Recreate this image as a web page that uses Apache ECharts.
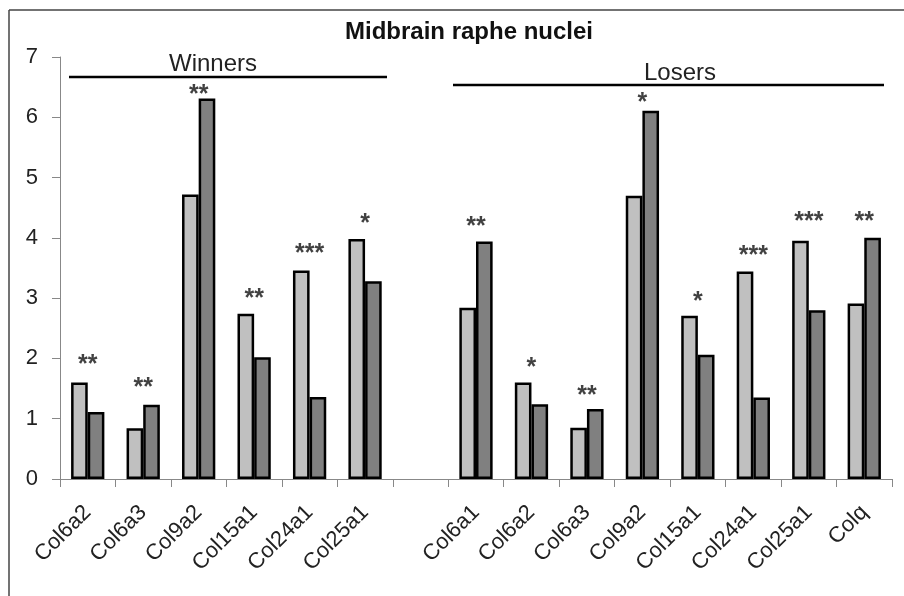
<!DOCTYPE html>
<html>
<head>
<meta charset="utf-8">
<script src="https://cdn.jsdelivr.net/npm/echarts@6/dist/echarts.min.js"></script>
<style>html,body{margin:0;padding:0;background:#fff;}#c{width:904px;height:596px;}</style>
</head>
<body>
<div id="c"></div>
<script>
var categories = ['Col6a2','Col6a3','Col9a2','Col15a1','Col24a1','Col25a1','',
                  'Col6a1','Col6a2','Col6a3','Col9a2','Col15a1','Col24a1','Col25a1','Colq'];
var lightValues = [1.60, 0.84, 4.72, 2.74, 3.46, 3.98, null,
                   2.84, 1.60, 0.85, 4.70, 2.71, 3.44, 3.95, 2.91];
var darkValues  = [1.11, 1.23, 6.31, 2.02, 1.36, 3.28, null,
                   3.94, 1.24, 1.16, 6.11, 2.06, 1.35, 2.80, 4.00];
var starLabels  = ['**','**','**','**','***','*', '',
                   '**','*','**','*','*','***','***','**'];
var starHeights = [1.89, 1.51, 6.37, 2.99, 3.73, 4.23, null,
                   4.18, 1.84, 1.38, 6.24, 2.94, 3.70, 4.26, 4.26];
var yTicks = [0,1,2,3,4,5,6,7];

var chart = echarts.init(document.getElementById('c'), null, {renderer:'canvas'});
var FONT = 'Liberation Sans, Arial, sans-serif';
var option = {
  animation: false,
  backgroundColor: '#fff',
  title: {
    text: 'Midbrain raphe nuclei',
    left: 464, top: 15, textAlign: 'center',
    textStyle: {fontFamily: FONT, fontSize: 24, fontWeight: 'bold', color: '#111'}
  },
  grid: {left: 60, right: 12, top: 57, bottom: 117, containLabel: false},
  xAxis: {
    type: 'category', data: categories,
    axisLine: {lineStyle: {color: '#888', width: 1}},
    axisTick: {show: true, length: 8, lineStyle: {color: '#888'}, alignWithLabel: false},
    axisLabel: {rotate: 45, margin: 30, interval: 0, fontFamily: FONT, fontSize: 22, color: '#222'}
  },
  yAxis: {
    type: 'value', min: yTicks[0], max: yTicks[yTicks.length - 1], interval: 1,
    splitLine: {show: false},
    axisLine: {show: true, lineStyle: {color: '#888', width: 1}},
    axisTick: {show: true, length: 8, lineStyle: {color: '#888'}},
    axisLabel: {margin: 22, fontFamily: FONT, fontSize: 22, color: '#222'}
  },
  series: [
    {type: 'bar', data: lightValues, barWidth: '30%', barGap: '0%',
     itemStyle: {color: '#c0c0c0', borderColor: '#000', borderWidth: 2.5}},
    {type: 'bar', data: darkValues, barWidth: '30%', barGap: '0%',
     itemStyle: {color: '#808080', borderColor: '#000', borderWidth: 2.5}},
    {type: 'scatter', symbolSize: 0, silent: true,
     data: starHeights.map(function(v, i){ return {value: v, label: {formatter: starLabels[i]}}; }),
     label: {show: true, position: 'inside', fontFamily: FONT, fontSize: 25, fontWeight: 'bold', color: '#111'}}
  ],
  graphic: [
    {type: 'line', shape: {x1: 9, y1: 10, x2: 904, y2: 10}, style: {stroke: '#444', lineWidth: 1.5}},
    {type: 'line', shape: {x1: 9, y1: 10, x2: 9, y2: 596}, style: {stroke: '#444', lineWidth: 1.5}},
    {type: 'line', shape: {x1: 69, y1: 77, x2: 387, y2: 77}, style: {stroke: '#000', lineWidth: 2.5}},
    {type: 'line', shape: {x1: 453, y1: 85, x2: 884, y2: 85}, style: {stroke: '#000', lineWidth: 2.5}},
    {type: 'text', x: 213, y: 64, style: {text: 'Winners', textAlign: 'center', textVerticalAlign: 'middle', font: '24px ' + FONT, fill: '#222'}},
    {type: 'text', x: 680, y: 73, style: {text: 'Losers', textAlign: 'center', textVerticalAlign: 'middle', font: '24px ' + FONT, fill: '#222'}}
  ]
};
chart.setOption(option);
</script>
</body>
</html>
